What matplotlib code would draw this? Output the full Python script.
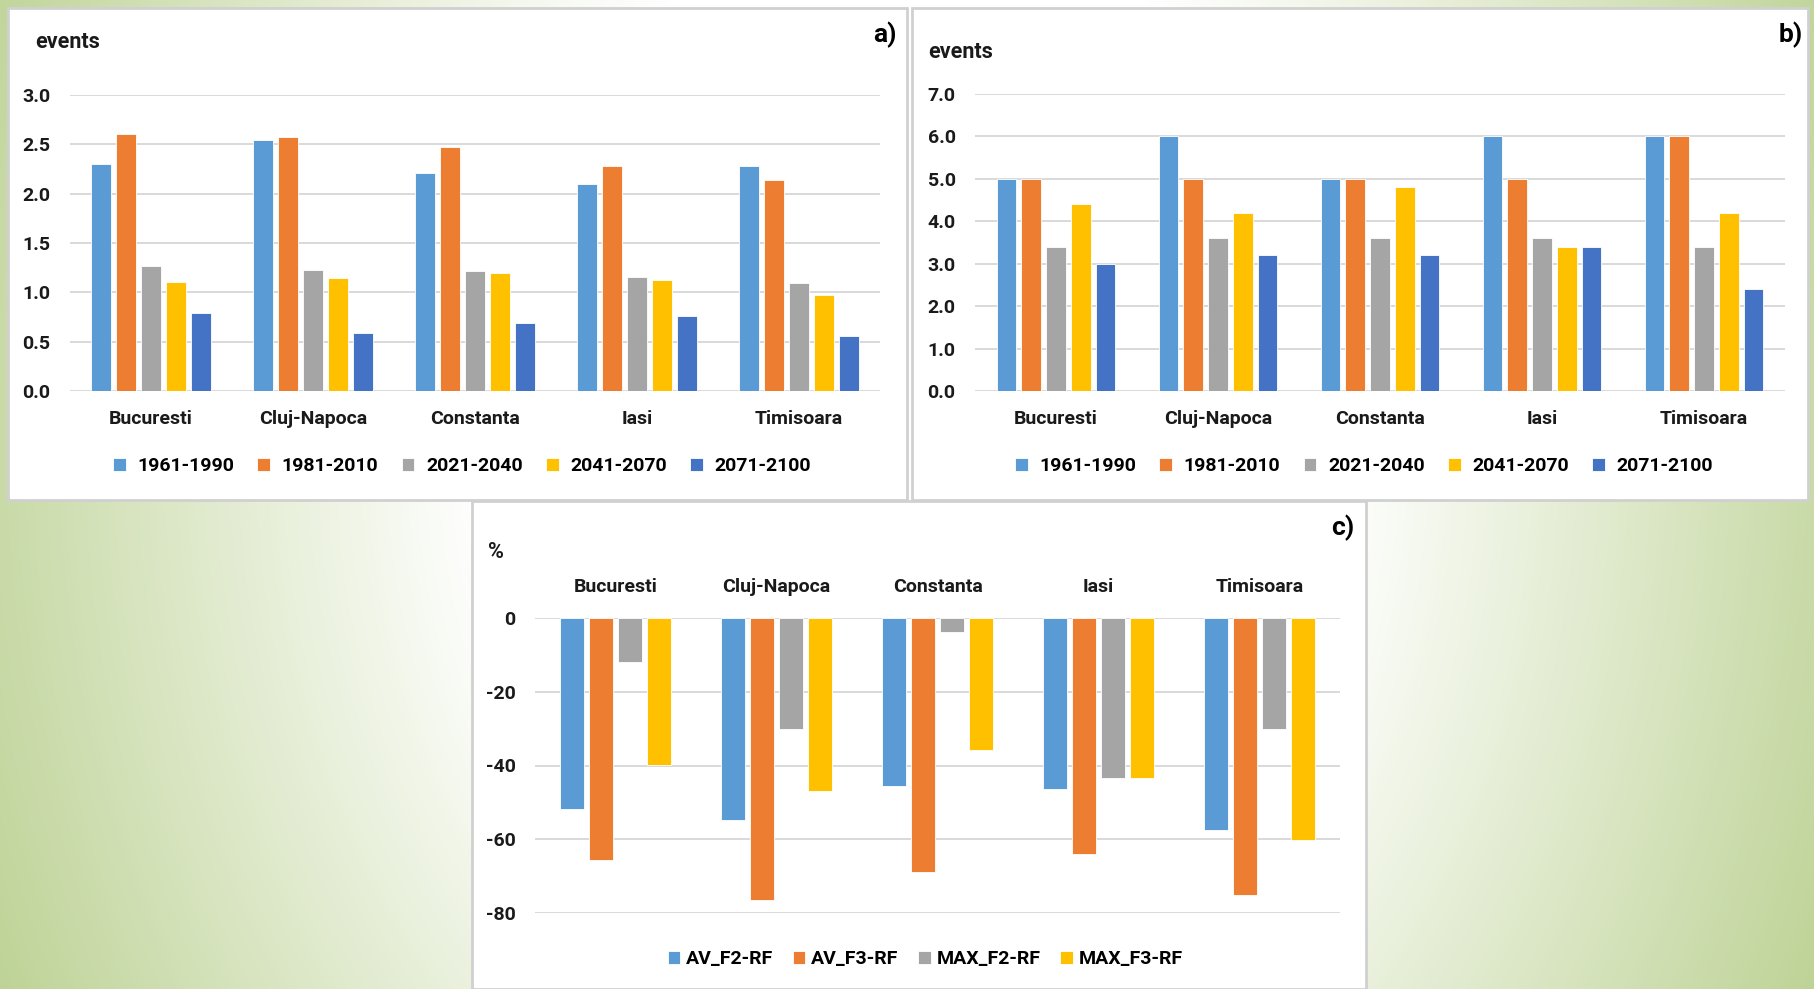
import matplotlib
matplotlib.use("Agg")
import matplotlib.pyplot as plt
import numpy as np
from matplotlib.patches import Rectangle

plt.rcParams.update({
    "font.family": ["Roboto", "DejaVu Sans"],
    "font.weight": "bold",
    "axes.unicode_minus": False,
})

cities = ["Bucuresti", "Cluj-Napoca", "Constanta", "Iasi", "Timisoara"]
periods = ["1961-1990", "1981-2010", "2021-2040", "2041-2070", "2071-2100"]
period_colors = ["#5B9BD5", "#ED7D31", "#A5A5A5", "#FFC000", "#4472C4"]

# panel a) mean number of events per period
a_1961_1990 = [2.30, 2.54, 2.21, 2.10, 2.28]
a_1981_2010 = [2.60, 2.57, 2.47, 2.28, 2.14]
a_2021_2040 = [1.27, 1.23, 1.22, 1.16, 1.09]
a_2041_2070 = [1.10, 1.15, 1.20, 1.13, 0.97]
a_2071_2100 = [0.79, 0.59, 0.69, 0.76, 0.56]

# panel b) max number of events per period
b_1961_1990 = [5.0, 6.0, 5.0, 6.0, 6.0]
b_1981_2010 = [5.0, 5.0, 5.0, 5.0, 6.0]
b_2021_2040 = [3.4, 3.6, 3.6, 3.6, 3.4]
b_2041_2070 = [4.4, 4.2, 4.8, 3.4, 4.2]
b_2071_2100 = [3.0, 3.2, 3.2, 3.4, 2.4]

# panel c) relative change, %
change_labels = ["AV_F2-RF", "AV_F3-RF", "MAX_F2-RF", "MAX_F3-RF"]
change_colors = ["#5B9BD5", "#ED7D31", "#A5A5A5", "#FFC000"]
av_f2_rf = [-51.8, -54.8, -45.6, -46.5, -57.6]
av_f3_rf = [-65.7, -76.5, -68.8, -63.9, -75.2]
max_f2_rf = [-11.8, -30.1, -3.7, -43.4, -30.1]
max_f3_rf = [-39.9, -46.8, -35.9, -43.4, -60.1]

W, H = 1814, 989
GRID = "#D9D9D9"
TXT = "#1a1a1a"
FS = 14


def fx(x):
    return x / W


def fy(y):
    return 1 - y / H


def ax_rect(x0, y0, x1, y1):
    # pixel box (top-left origin) -> figure fraction rect
    return [fx(x0), fy(y1), fx(x1) - fx(x0), (y1 - y0) / H]


def grouped_bars(ax, series, colors, labels, pitch, width):
    x = np.arange(len(cities))
    n = len(series)
    for i, (vals, c, lab) in enumerate(zip(series, colors, labels)):
        off = (i - (n - 1) / 2) * pitch
        ax.bar(x + off, vals, width, color=c, label=lab,
               edgecolor="white", linewidth=0.6, zorder=3)
    ax.set_xticks(x)
    ax.set_xticklabels(cities, fontsize=FS, color=TXT)
    ax.set_xlim(-0.5, len(cities) - 0.5)
    ax.tick_params(axis="both", length=0, labelsize=FS, labelcolor=TXT)
    ax.tick_params(axis="y", pad=14)
    ax.tick_params(axis="x", pad=14)
    for s in ax.spines.values():
        s.set_visible(False)
    ax.grid(axis="y", color=GRID, linewidth=1.4, zorder=0)
    ax.set_axisbelow(True)
    ax.patch.set_alpha(0)


fig = plt.figure(figsize=(W / 100, H / 100), dpi=100)

# gradient background
bg = fig.add_axes([0, 0, 1, 1], zorder=-10)
yy, xx = np.mgrid[0:H, 0:W]
r = np.sqrt((xx - W / 2) ** 2 + ((yy - 450) * 0.8) ** 2)
t = np.clip((r - 430) / 700, 0, 1)[..., None]
green = np.array([0.69, 0.79, 0.50])
img = (1 - t) * np.ones(3) + t * green
bg.imshow(img, extent=[0, W, H, 0], aspect="auto")
bg.set_xlim(0, W)
bg.set_ylim(H, 0)
bg.axis("off")
for (x0, y0, x1, y1) in [(8, 8, 907, 500), (912, 8, 1808, 500), (472, 501, 1366, 989)]:
    bg.add_patch(Rectangle((x0, y0), x1 - x0, y1 - y0, facecolor="white",
                           edgecolor="#D0D0D0", linewidth=2))

leg_kw = dict(loc="center", bbox_transform=fig.transFigure, frameon=False, fontsize=FS,
              handlelength=0.65, handleheight=0.65)

# panel a
ax_a = fig.add_axes(ax_rect(70, 95, 880, 391))
grouped_bars(ax_a, [a_1961_1990, a_1981_2010, a_2021_2040, a_2041_2070, a_2071_2100],
             period_colors, periods, 0.155, 0.125)
ax_a.set_ylim(0, 3.0)
ax_a.set_yticks(np.arange(0, 3.01, 0.5))
ax_a.set_yticklabels([f"{v:.1f}" for v in np.arange(0, 3.01, 0.5)])
ax_a.legend(bbox_to_anchor=(fx(462), fy(466)), ncol=5, handletextpad=0.6,
            columnspacing=1.2, **leg_kw)
fig.text(fx(35), fy(42), "events", fontsize=15.5, ha="left", va="center", color=TXT)
fig.text(fx(897), fy(35), "a)", fontsize=19, ha="right", va="center", color="black")

# panel b
ax_b = fig.add_axes(ax_rect(975, 94, 1785, 391))
grouped_bars(ax_b, [b_1961_1990, b_1981_2010, b_2021_2040, b_2041_2070, b_2071_2100],
             period_colors, periods, 0.153, 0.12)
ax_b.set_ylim(0, 7.0)
ax_b.set_yticks(np.arange(0, 7.01, 1.0))
ax_b.set_yticklabels([f"{v:.1f}" for v in np.arange(0, 7.01, 1.0)])
ax_b.legend(bbox_to_anchor=(fx(1364), fy(466)), ncol=5, handletextpad=0.6,
            columnspacing=1.2, **leg_kw)
fig.text(fx(928), fy(52), "events", fontsize=15.5, ha="left", va="center", color=TXT)
fig.text(fx(1803), fy(35), "b)", fontsize=19, ha="right", va="center", color="black")

# panel c
ax_c = fig.add_axes(ax_rect(535, 618, 1340, 913))
grouped_bars(ax_c, [av_f2_rf, av_f3_rf, max_f2_rf, max_f3_rf],
             change_colors, change_labels, 0.18, 0.145)
ax_c.set_ylim(-80, 0)
ax_c.set_yticks(np.arange(-80, 1, 20))
ax_c.xaxis.tick_top()
ax_c.tick_params(axis="x", pad=16)
ax_c.legend(bbox_to_anchor=(fx(925), fy(959)), ncol=4, handletextpad=0.3,
            columnspacing=1.0, **leg_kw)
fig.text(fx(488), fy(552), "%", fontsize=15.5, ha="left", va="center", color=TXT)
fig.text(fx(1354), fy(528), "c)", fontsize=19, ha="right", va="center", color="black")

fig.savefig("out.png", dpi=100)
